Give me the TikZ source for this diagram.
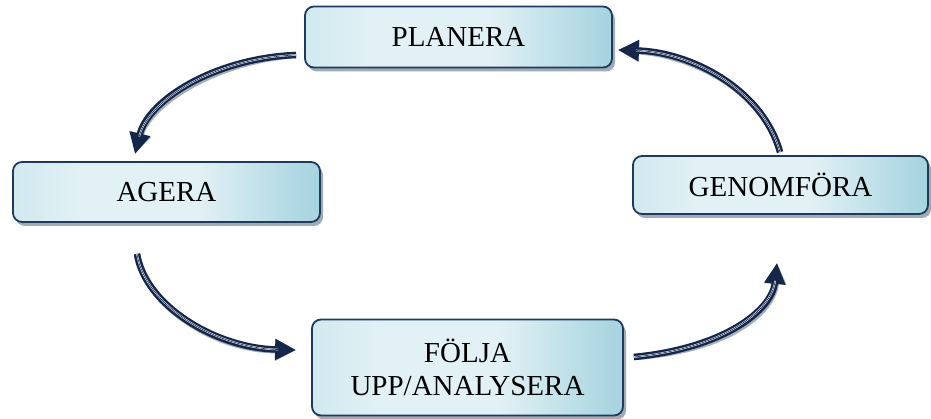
\documentclass[tikz,border=0pt]{standalone}
\usepackage{fontspec}
\setmainfont{Liberation Serif}
\usetikzlibrary{arrows.meta,calc,shadows}
\definecolor{boxedge}{HTML}{1F3A5C}
\definecolor{boxlight}{HTML}{E2F1F5}
\definecolor{boxmid}{HTML}{D0E9EF}
\definecolor{boxdark}{HTML}{A4D3DF}
\definecolor{arrowdark}{HTML}{14264A}
\definecolor{shadowgray}{HTML}{8E9CA8}
% light sheen in the middle, deeper teal towards the right edge
\pgfdeclarehorizontalshading{stagefill}{100bp}{%
  color(0bp)=(boxmid); color(25bp)=(boxmid); color(36bp)=(boxlight);
  color(55bp)=(boxlight); color(75bp)=(boxdark); color(100bp)=(boxdark)}
\tikzset{
  stagebox/.style={draw=boxedge, line width=1.8pt, rounded corners=9pt,
    shading=stagefill, inner sep=0pt, align=center,
    font=\fontsize{29}{33}\selectfont,
    drop shadow={shadow xshift=3pt, shadow yshift=-4pt, fill=shadowgray, opacity=0.85}},
  arrowbody/.style={draw=arrowdark, line width=6.5pt,
    -{Triangle[length=21pt,width=20pt]}},
  arrowshade/.style={draw=shadowgray, line width=6.5pt, opacity=0.8,
    -{Triangle[length=21pt,width=20pt]}},
  arrowstripe/.style={draw=white, line width=1.6pt, shorten >=18pt},
  arrowcore/.style={draw=arrowdark, line width=0.6pt, shorten >=18pt},
}
% curved cycle arrow: start, control 1, control 2, end
\newcommand\cyclearrow[4]{%
  \begin{scope}[shift={(2pt,-2.5pt)}]
    \path[arrowshade] (#1) .. controls #2 and #3 .. (#4);
  \end{scope}
  \path[arrowbody] (#1) .. controls #2 and #3 .. (#4);
  \path[arrowstripe] (#1) .. controls #2 and #3 .. (#4);
  \path[arrowcore] (#1) .. controls #2 and #3 .. (#4);
}
\begin{document}
\begin{tikzpicture}[x=1pt,y=-1pt]
\useasboundingbox (0,0) rectangle (931,419);

\node[stagebox, minimum width=307pt, minimum height=61pt] (plan) at (458.5,37) {PLANERA};
\node[stagebox, minimum width=307pt, minimum height=60pt] (agera) at (166.5,192) {AGERA};
\node[stagebox, minimum width=295pt, minimum height=58pt] (genom) at (780.5,185) {GENOMFÖRA};
\node[stagebox, minimum width=311pt, minimum height=96pt] (folja) at (467.5,367.5) {FÖLJA\\UPP/ANALYSERA};

\coordinate (p1) at ($(plan.west)+(-8,18)$);
\coordinate (a1) at ($(agera.north)+(-31.5,-7)$);
\coordinate (a2) at ($(agera.south)+(-29.5,31)$);
\coordinate (f1) at ($(folja.west)+(-15,-17.5)$);
\coordinate (f2) at ($(folja.east)+(10,-10.5)$);
\coordinate (g1) at ($(genom.south)+(-3.5,48)$);
\coordinate (g2) at ($(genom.north)+(-0.5,-3)$);
\coordinate (p2) at ($(plan.east)+(5,13)$);

\cyclearrow{p1}{(215,58)}{(148,100)}{a1}
\cyclearrow{a2}{(145,305)}{(215,348)}{f1}
\cyclearrow{f2}{(725,348)}{(772,310)}{g1}
\cyclearrow{g2}{(762,88)}{(690,52)}{p2}
\end{tikzpicture}
\end{document}
